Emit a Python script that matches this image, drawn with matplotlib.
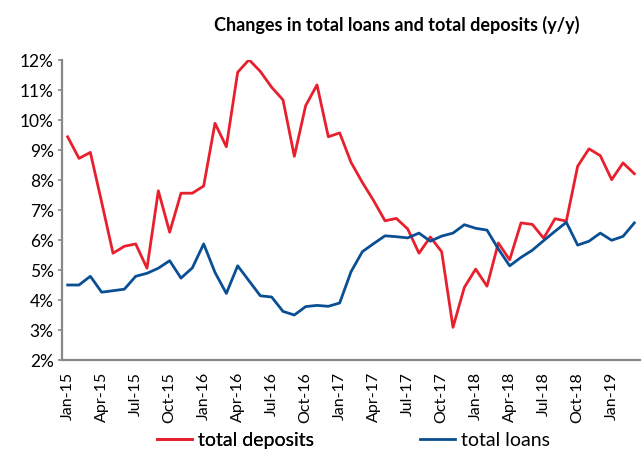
import numpy as np
import pandas as pd
from matplotlib import pyplot as plt
from matplotlib.ticker import FuncFormatter

# monthly y/y changes, Jan-15 .. Mar-19 (in %)
months = pd.date_range("2015-01-01", "2019-03-01", freq="MS")

deposits = [9.44, 8.72, 8.92, 7.26, 5.56, 5.79, 5.87, 5.06, 7.64, 6.26,
            7.56, 7.56, 7.80, 9.89, 9.11, 11.59, 12.01, 11.62, 11.09, 10.67,
            8.79, 10.48, 11.17, 9.44, 9.57, 8.59, 7.92, 7.31, 6.64, 6.72,
            6.37, 5.56, 6.10, 5.61, 3.09, 4.42, 5.03, 4.46, 5.90, 5.34,
            6.57, 6.52, 6.06, 6.71, 6.63, 8.46, 9.04, 8.81, 8.01, 8.57, 8.21]

loans = [4.50, 4.50, 4.79, 4.26, 4.31, 4.36, 4.79, 4.89, 5.06, 5.31,
         4.73, 5.07, 5.87, 4.92, 4.22, 5.14, 4.64, 4.14, 4.10, 3.62,
         3.50, 3.78, 3.82, 3.79, 3.90, 4.94, 5.61, 5.88, 6.14, 6.11,
         6.07, 6.23, 5.96, 6.13, 6.23, 6.51, 6.39, 6.33, 5.70, 5.14,
         5.42, 5.66, 5.98, 6.29, 6.59, 5.83, 5.96, 6.23, 5.99, 6.12, 6.57]

tick_labels = [d.strftime("%b-%y") for d in months[::3]]

RED = "#e8202e"
BLUE = "#0a4f93"
GREY = "#888888"

plt.rcParams['font.family'] = ['Lato', 'DejaVu Sans']

fig = plt.figure(figsize=(6.44, 4.52), dpi=100)
ax = fig.add_axes([62/644, 1 - 361/452, (640-62)/644, 300/452])

x = np.arange(len(months))
dep_line, = ax.plot(x, deposits, color=RED, lw=2, label="total deposits")
loan_line, = ax.plot(x, loans, color=BLUE, lw=2, label="total loans")

ax.set_xlim(-0.5, len(months) - 0.5)
ax.set_ylim(2, 12)
ax.set_yticks(np.arange(2, 13, 1))
ax.yaxis.set_major_formatter(FuncFormatter(lambda v, p: f"{v:.0f}%"))
ax.set_xticks(x[::3])
ax.set_xticklabels(tick_labels, rotation=90)

ax.tick_params(axis='y', labelsize=12.5, length=3, color=GREY, width=1.2, pad=3)
ax.tick_params(axis='x', labelsize=11.5, length=0, pad=8)

for s in ["top", "right"]:
    ax.spines[s].set_visible(False)
for s in ["left", "bottom"]:
    ax.spines[s].set_color(GREY)
    ax.spines[s].set_linewidth(1.6)

fig.text(397/644, 1 - 25/452, "Changes in total loans and total deposits (y/y)",
         ha="center", va="center", fontsize=13, fontweight="bold")

# one legend entry each so they sit where wanted under the axis
leg_kw = dict(loc="center left", frameon=False, fontsize=14, handlelength=1.8,
              handletextpad=0.3, borderpad=0, borderaxespad=0)
leg1 = fig.legend(handles=[dep_line], bbox_to_anchor=(157/644, 1 - 441/452), **leg_kw)
fig.add_artist(leg1)
fig.legend(handles=[loan_line], bbox_to_anchor=(420/644, 1 - 441/452), **leg_kw)

fig.savefig("out.png", dpi=100)
